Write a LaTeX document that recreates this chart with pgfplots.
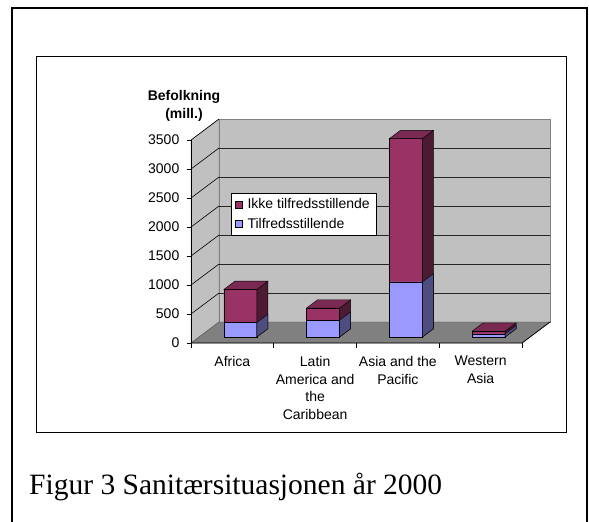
\documentclass[border=0pt]{standalone}
\usepackage{pgfplots}
\pgfplotsset{compat=1.18}
\usepackage{pgfplotstable}
\usepackage{fontspec}
\setmainfont{Liberation Serif}
\newfontfamily\arial{Liberation Sans}
\definecolor{redf}{HTML}{993366}
\definecolor{redt}{HTML}{7A2952}
\definecolor{reds}{HTML}{4D1A33}
\definecolor{bluef}{HTML}{9999FF}
\definecolor{blues}{HTML}{4D4D80}
\definecolor{wallc}{HTML}{C0C0C0}
\definecolor{floorc}{HTML}{808080}

% population (millions): satisfactory / not satisfactory sanitation
\pgfplotstableread{
x   sat  unsat
0.5 250  570
1.5 290  210
2.5 950  2470
3.5 55   45
}\datatable

\begin{document}
\begin{tikzpicture}
\useasboundingbox (0pt,0pt) rectangle (589pt,-522pt);
\begin{scope}
\clip (0pt,0pt) rectangle (589pt,-522pt);
\draw[line width=1.5pt] (12pt,-8pt) rectangle (587pt,-600pt);
\end{scope}
\draw[line width=1pt] (36pt,-56pt) rectangle (566pt,-432pt);
\node[anchor=base west, font=\fontsize{29.5}{33}\selectfont, inner sep=0pt] at (29pt,-494pt) {Figur 3 Sanitærsituasjonen år 2000};
\node[font=\arial\bfseries\fontsize{14}{18}\selectfont, align=center] at (184pt,-106pt) {Befolkning\\(mill.)};

\begin{axis}[
  at={(191pt,-343pt)}, anchor=south west,
  x=82.75pt, y=0.058pt,
  xmin=0, xmax=4.3384, ymin=0, ymax=3862.1,
  clip=false,
  axis line style={draw=none},
  /pgf/number format/assume math mode=true,
  /pgf/number format/1000 sep={},
  tick label style={font=\arial\fontsize{14}{17.8}\selectfont},
  tick align=outside,
  xtick pos=bottom, ytick pos=left,
  major tick length=4.5pt,
  tick style={black, line width=0.6pt},
  ytick={0,500,...,3500},
  yticklabel style={anchor=east, inner sep=0pt, xshift=-7pt},
  xtick={0,1,2,3,4},
  xticklabels={,,,,},
  extra x ticks={0.5,1.5,2.5,3.5},
  extra x tick labels={Africa, {Latin\\America and\\the\\Caribbean}, {Asia and the\\Pacific}, {Western\\Asia}},
  extra x tick style={major tick length=0pt, tick label style={align=center, anchor=north, inner sep=0pt, yshift=-13pt}},
  legend image code/.code={\draw[#1] (0pt,-3.5pt) rectangle (7pt,3.5pt);},
  legend cell align=left,
  legend style={at={(0.1114,0.6696)}, anchor=north west, draw=black, fill=white,
    font=\arial\fontsize{14}{16}\selectfont, inner xsep=4pt, inner ysep=3.5pt,
    row sep=3.5pt, column sep=3pt, nodes={inner sep=2pt}},
]
\addlegendimage{fill=redf, draw=black}
\addlegendentry{Ikke tilfredsstillende}
\addlegendimage{fill=bluef, draw=black}
\addlegendentry{Tilfredsstillende}

% walls and floor
\addplot[forget plot, fill=wallc, draw=floorc] coordinates {(0,0) (0.3384,362.1) (0.3384,3862.1) (0,3500)} -- cycle;
\addplot[forget plot, fill=wallc, draw=floorc] coordinates {(0.3384,362.1) (4.3384,362.1) (4.3384,3862.1) (0.3384,3862.1)} -- cycle;
\addplot[forget plot, fill=floorc, draw=black!70] coordinates {(0,0) (4,0) (4.3384,362.1) (0.3384,362.1)} -- cycle;

% gridlines
\pgfplotsforeachungrouped \v in {500,1000,...,3000}{%
  \pgfmathsetmacro\vb{\v+362.1}%
  \edef\cmd{\noexpand\addplot[forget plot, black!85, line width=0.9pt] coordinates {(0.3384,\vb) (4.3384,\vb)};}%
  \cmd
}
\pgfplotsforeachungrouped \v in {500,1000,...,3500}{%
  \pgfmathsetmacro\vb{\v+362.1}%
  \edef\cmd{\noexpand\addplot[forget plot, black, line width=0.6pt] coordinates {(0,\v) (0.3384,\vb)};}%
  \cmd
}
% axis lines
\addplot[forget plot, black, line width=0.7pt] coordinates {(0,0) (0,3500)};
\addplot[forget plot, black, line width=0.7pt] coordinates {(0,0) (4,0) (4.3384,362.1)};

% front faces
\addplot[forget plot, ybar, bar width=33pt, bar shift=0pt, fill=redf, draw=black, xshift=8pt, yshift=6pt]
  table[x=x, y expr=\thisrow{sat}+\thisrow{unsat}] {\datatable};
\addplot[forget plot, ybar, bar width=33pt, bar shift=0pt, fill=bluef, draw=black, xshift=8pt, yshift=6pt]
  table[x=x, y=sat] {\datatable};

% side and top faces
\pgfplotsforeachungrouped \i in {0,1,2,3}{%
  \pgfplotstablegetelem{\i}{x}\of\datatable \let\cx\pgfplotsretval
  \pgfplotstablegetelem{\i}{sat}\of\datatable \let\vs\pgfplotsretval
  \pgfplotstablegetelem{\i}{unsat}\of\datatable \let\vu\pgfplotsretval
  \pgfmathsetmacro\xr{\cx+0.1994}%
  \pgfmathsetmacro\xl{\cx-0.1994}%
  \pgfmathsetmacro\xrb{\xr+0.133}%
  \pgfmathsetmacro\xlb{\xl+0.133}%
  \pgfmathsetmacro\vt{\vs+\vu}%
  \pgfmathsetmacro\vtb{\vt+142.3}%
  \pgfmathsetmacro\vsb{\vs+142.3}%
  \edef\cmd{%
    \noexpand\addplot[forget plot, fill=reds, draw=black, xshift=8pt, yshift=6pt] coordinates {(\xr,0) (\xrb,142.3) (\xrb,\vtb) (\xr,\vt)} -- cycle;
    \noexpand\addplot[forget plot, fill=blues, draw=black, xshift=8pt, yshift=6pt] coordinates {(\xr,0) (\xrb,142.3) (\xrb,\vsb) (\xr,\vs)} -- cycle;
    \noexpand\addplot[forget plot, fill=redt, draw=black, xshift=8pt, yshift=6pt] coordinates {(\xl,\vt) (\xr,\vt) (\xrb,\vtb) (\xlb,\vtb)} -- cycle;
  }%
  \cmd
}
\end{axis}
\end{tikzpicture}
\end{document}
